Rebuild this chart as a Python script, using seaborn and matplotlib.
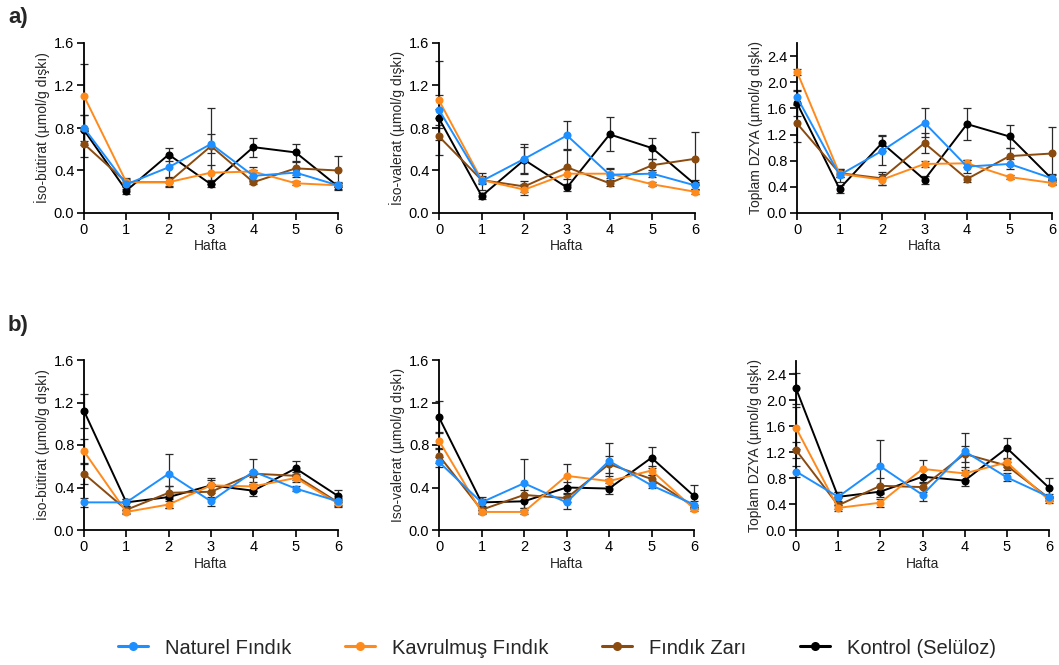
import numpy as np
import pandas as pd
import seaborn as sns
import matplotlib
matplotlib.use("Agg")
import matplotlib.pyplot as plt
from matplotlib.lines import Line2D
from matplotlib.ticker import FormatStrFormatter

# ---------------- data ----------------
WEEKS = [0, 1, 2, 3, 4, 5, 6]
SERIES = ["Naturel Fındık", "Kavrulmuş Fındık", "Fındık Zarı", "Kontrol (Selüloz)"]
COLORS = ["#1E8FFF", "#FF8A1C", "#8B4A0E", "#000000"]

# a) iso-butyrate
A_BUT_NAT = [0.80, 0.27, 0.43, 0.65, 0.35, 0.38, 0.26]
A_BUT_KAV = [1.10, 0.29, 0.29, 0.38, 0.39, 0.28, 0.26]
A_BUT_ZAR = [0.65, 0.29, 0.29, 0.63, 0.29, 0.42, 0.40]
A_BUT_KON = [0.78, 0.21, 0.55, 0.27, 0.62, 0.57, 0.25]
A_BUT_NAT_SE = [0.12, 0.04, 0.10, 0.09, 0.05, 0.04, 0.03]
A_BUT_KAV_SE = [0.30, 0.04, 0.04, 0.07, 0.04, 0.02, 0.02]
A_BUT_ZAR_SE = [0.12, 0.03, 0.05, 0.36, 0.02, 0.06, 0.14]
A_BUT_KON_SE = [0.14, 0.03, 0.06, 0.03, 0.09, 0.08, 0.03]

# a) iso-valerate
A_VAL_NAT = [0.97, 0.30, 0.51, 0.73, 0.36, 0.37, 0.26]
A_VAL_KAV = [1.06, 0.31, 0.22, 0.37, 0.37, 0.27, 0.20]
A_VAL_ZAR = [0.72, 0.31, 0.25, 0.43, 0.28, 0.45, 0.51]
A_VAL_KON = [0.89, 0.16, 0.50, 0.24, 0.74, 0.61, 0.27]
A_VAL_NAT_SE = [0.14, 0.08, 0.14, 0.14, 0.06, 0.03, 0.03]
A_VAL_KAV_SE = [0.37, 0.03, 0.05, 0.05, 0.04, 0.02, 0.02]
A_VAL_ZAR_SE = [0.17, 0.04, 0.05, 0.17, 0.03, 0.06, 0.25]
A_VAL_KON_SE = [0.09, 0.03, 0.12, 0.03, 0.16, 0.10, 0.04]

# a) total BCFA
A_TOT_NAT = [1.77, 0.58, 0.95, 1.38, 0.71, 0.75, 0.53]
A_TOT_KAV = [2.16, 0.60, 0.51, 0.75, 0.76, 0.55, 0.46]
A_TOT_ZAR = [1.37, 0.61, 0.53, 1.07, 0.52, 0.87, 0.91]
A_TOT_KON = [1.68, 0.37, 1.07, 0.51, 1.36, 1.17, 0.52]
A_TOT_NAT_SE = [0.10, 0.10, 0.22, 0.22, 0.10, 0.08, 0.05]
A_TOT_KAV_SE = [0.05, 0.05, 0.08, 0.05, 0.05, 0.03, 0.03]
A_TOT_ZAR_SE = [0.28, 0.06, 0.10, 0.15, 0.05, 0.13, 0.40]
A_TOT_KON_SE = [0.20, 0.06, 0.12, 0.06, 0.25, 0.18, 0.08]

# b) iso-butyrate
B_BUT_NAT = [0.26, 0.26, 0.53, 0.27, 0.55, 0.39, 0.27]
B_BUT_KAV = [0.74, 0.17, 0.24, 0.42, 0.41, 0.49, 0.25]
B_BUT_ZAR = [0.53, 0.19, 0.35, 0.36, 0.53, 0.51, 0.26]
B_BUT_KON = [1.12, 0.26, 0.31, 0.42, 0.37, 0.58, 0.32]
B_BUT_NAT_SE = [0.04, 0.03, 0.19, 0.04, 0.12, 0.02, 0.03]
B_BUT_KAV_SE = [0.12, 0.02, 0.03, 0.05, 0.04, 0.04, 0.03]
B_BUT_ZAR_SE = [0.10, 0.03, 0.06, 0.07, 0.03, 0.04, 0.03]
B_BUT_KON_SE = [0.16, 0.03, 0.10, 0.07, 0.05, 0.07, 0.06]

# b) iso-valerate
B_VAL_NAT = [0.64, 0.26, 0.44, 0.26, 0.65, 0.42, 0.24]
B_VAL_KAV = [0.84, 0.17, 0.17, 0.51, 0.46, 0.56, 0.20]
B_VAL_ZAR = [0.70, 0.19, 0.33, 0.30, 0.62, 0.48, 0.22]
B_VAL_KON = [1.06, 0.26, 0.27, 0.40, 0.39, 0.68, 0.32]
B_VAL_NAT_SE = [0.05, 0.03, 0.23, 0.06, 0.17, 0.02, 0.03]
B_VAL_KAV_SE = [0.08, 0.02, 0.02, 0.11, 0.05, 0.04, 0.02]
B_VAL_ZAR_SE = [0.07, 0.03, 0.05, 0.04, 0.08, 0.04, 0.02]
B_VAL_KON_SE = [0.15, 0.05, 0.06, 0.05, 0.05, 0.10, 0.10]

# b) total BCFA
B_TOT_NAT = [0.90, 0.51, 0.98, 0.54, 1.21, 0.81, 0.51]
B_TOT_KAV = [1.57, 0.34, 0.42, 0.94, 0.87, 1.04, 0.46]
B_TOT_ZAR = [1.23, 0.38, 0.68, 0.66, 1.17, 0.99, 0.49]
B_TOT_KON = [2.18, 0.51, 0.59, 0.82, 0.76, 1.26, 0.65]
B_TOT_NAT_SE = [0.08, 0.08, 0.41, 0.10, 0.29, 0.06, 0.05]
B_TOT_KAV_SE = [0.33, 0.04, 0.06, 0.14, 0.10, 0.07, 0.05]
B_TOT_ZAR_SE = [0.12, 0.05, 0.12, 0.08, 0.13, 0.06, 0.04]
B_TOT_KON_SE = [0.24, 0.07, 0.08, 0.10, 0.09, 0.16, 0.15]

YLABELS = ["İso-bütirat (µmol/g dışkı)", "İso-valerat (µmol/g dışkı)",
           "Toplam DZYA (µmol/g dışkı)", "İso-bütirat (µmol/g dışkı)",
           "Iso-valerat (µmol/g dışkı)", "Toplam DZYA (µmol/g dışkı)"]
XLABEL = "Hafta"

PANELS = [
    ([A_BUT_NAT, A_BUT_KAV, A_BUT_ZAR, A_BUT_KON], [A_BUT_NAT_SE, A_BUT_KAV_SE, A_BUT_ZAR_SE, A_BUT_KON_SE]),
    ([A_VAL_NAT, A_VAL_KAV, A_VAL_ZAR, A_VAL_KON], [A_VAL_NAT_SE, A_VAL_KAV_SE, A_VAL_ZAR_SE, A_VAL_KON_SE]),
    ([A_TOT_NAT, A_TOT_KAV, A_TOT_ZAR, A_TOT_KON], [A_TOT_NAT_SE, A_TOT_KAV_SE, A_TOT_ZAR_SE, A_TOT_KON_SE]),
    ([B_BUT_NAT, B_BUT_KAV, B_BUT_ZAR, B_BUT_KON], [B_BUT_NAT_SE, B_BUT_KAV_SE, B_BUT_ZAR_SE, B_BUT_KON_SE]),
    ([B_VAL_NAT, B_VAL_KAV, B_VAL_ZAR, B_VAL_KON], [B_VAL_NAT_SE, B_VAL_KAV_SE, B_VAL_ZAR_SE, B_VAL_KON_SE]),
    ([B_TOT_NAT, B_TOT_KAV, B_TOT_ZAR, B_TOT_KON], [B_TOT_NAT_SE, B_TOT_KAV_SE, B_TOT_ZAR_SE, B_TOT_KON_SE]),
]

# ---------------- style ----------------
sns.set_theme(style="ticks")
plt.rcParams["font.family"] = ["Liberation Sans", "DejaVu Sans"]
plt.rcParams["axes.linewidth"] = 1.3

W, H = 1059, 665
fig = plt.figure(figsize=(W / 100, H / 100), dpi=100)

# pixel boxes: (x0, x6, y_zero, y_top)
BOXES = [
    (84, 338, 213, 43), (439, 695, 213, 43), (797, 1052, 213, 43),
    (84, 338, 530, 360), (439, 694, 530, 360), (796, 1049, 530, 361),
]
YMAX = [1.6, 1.6, 2.6, 1.6, 1.6, 2.6]
YTICKS = [np.arange(0, 1.61, 0.4), np.arange(0, 1.61, 0.4), np.arange(0, 2.41, 0.4)] * 2

for i, ((means, ses), (x0, x1, yb, yt)) in enumerate(zip(PANELS, BOXES)):
    ax = fig.add_axes([x0 / W, 1 - yb / H, (x1 - x0) / W, (yb - yt) / H])
    # draw in reverse legend order so the first series is on top
    for k in reversed(range(4)):
        df = pd.DataFrame({"Hafta": WEEKS, "val": means[k]})
        ax.errorbar(WEEKS, means[k], yerr=ses[k], fmt="none", ecolor="#2a2a2a",
                    elinewidth=0.9, capsize=2.8, capthick=0.9, clip_on=False,
                    zorder=2 + k * 0.01)
        sns.lineplot(data=df, x="Hafta", y="val", ax=ax, color=COLORS[k],
                     marker="o", markersize=5.8, markeredgewidth=0,
                     linewidth=1.4, clip_on=False, zorder=3 + (3 - k) * 0.1,
                     legend=False)
    ax.set_xlim(0, 6)
    ax.set_ylim(0, YMAX[i])
    ax.set_xticks(WEEKS)
    ax.set_yticks(YTICKS[i])
    ax.yaxis.set_major_formatter(FormatStrFormatter("%.1f"))
    sns.despine(ax=ax)
    for s in ("left", "bottom"):
        ax.spines[s].set_color("black")
        ax.spines[s].set_linewidth(1.3)
    ax.tick_params(direction="out", length=5, width=1.2, colors="black",
                   labelsize=10.5, pad=2)
    ax.set_xlabel(XLABEL, fontsize=10, labelpad=2)
    ax.set_ylabel(YLABELS[i], fontsize=10, labelpad=3)

fig.text(8 / W, 1 - 17 / H, "a)", fontsize=16, fontweight="bold", va="center", ha="left")
fig.text(8 / W, 1 - 325 / H, "b)", fontsize=16, fontweight="bold", va="center", ha="left")

handles = [Line2D([0], [0], color=c, marker="o", markersize=6.5, markeredgewidth=0, linewidth=2.2)
           for c in COLORS]
fig.legend(handles, SERIES, loc="center", bbox_to_anchor=(557 / W, 1 - 648 / H), ncol=4,
           frameon=False, fontsize=14.5, handlelength=1.5, columnspacing=2.65,
           handletextpad=0.85)

fig.savefig("out.png", dpi=100)
